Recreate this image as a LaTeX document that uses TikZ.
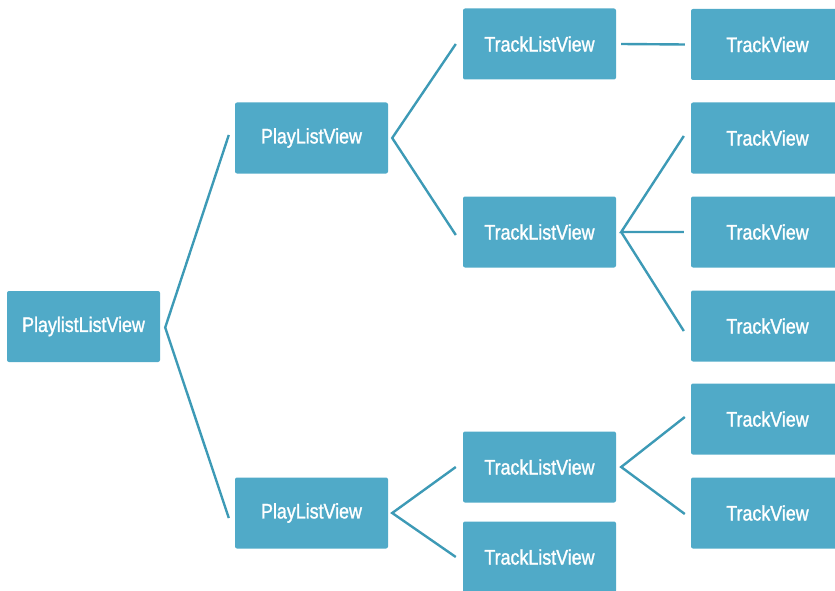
\documentclass[tikz,border=0pt]{standalone}
\usepackage{fontspec}
\setmainfont[FakeStretch=0.85,FakeBold=1.3]{Liberation Sans}
\definecolor{viewfill}{HTML}{50AAC8}
\definecolor{viewline}{HTML}{3D9AB6}
\begin{document}
\begin{tikzpicture}[
    x=1pt, y=-1pt,
    view/.style={rectangle, fill=viewfill, rounded corners=2pt, minimum width=153pt,
                 minimum height=71pt, inner sep=0pt, text=white, font=\fontsize{21}{24}\selectfont},
    link/.style={draw=viewline, line width=2.4pt}
]
\useasboundingbox (0,0) rectangle (835,591);

\node[view] (root) at (83.5,326.5) {PlaylistListView};
\node[view] (pa) at (311.5,138) {PlayListView};
\node[view] (pb) at (311.5,513) {PlayListView};
\node[view] (ta) at (539.5,44) {TrackListView};
\node[view] (tb) at (539.5,232) {TrackListView};
\node[view] (tc) at (539.5,467) {TrackListView};
\node[view] (td) at (539.5,557) {TrackListView};

\foreach \i/\y in {1/44.5,2/138,3/232,4/326,5/419,6/513}{
  \node[view] (v\i) at (767.5,\y) {TrackView};
}

% forks
\coordinate (froot) at ([xshift=5pt,yshift=-1pt]root.east);
\coordinate (fpa) at ([xshift=4pt]pa.east);
\coordinate (fpb) at ([xshift=4pt]pb.east);
\coordinate (ftb) at ([xshift=5pt]tb.east);
\coordinate (ftc) at ([xshift=5pt]tc.east);

\draw[link] ([xshift=-6pt,yshift=3pt]pa.west) -- (froot) -- ([xshift=-6pt,yshift=-5pt]pb.west);
\draw[link] ([xshift=-7pt]ta.west) -- (fpa) -- ([xshift=-7pt,yshift=-3pt]tb.west);
\draw[link] ([xshift=-7pt]tc.west) -- (fpb) -- ([xshift=-7pt]td.west);
\draw[link] ([xshift=5pt]ta.east) -- ([xshift=-6pt]v1.west);
\draw[link] ([xshift=-7pt,yshift=2pt]v2.west) -- (ftb) -- ([xshift=-7pt]v3.west);
\draw[link] (ftb) -- ([xshift=-7pt,yshift=-5pt]v4.west);
\draw[link] ([xshift=-6pt,yshift=2pt]v5.west) -- (ftc) -- ([xshift=-6pt,yshift=-1pt]v6.west);

\end{tikzpicture}
\end{document}
